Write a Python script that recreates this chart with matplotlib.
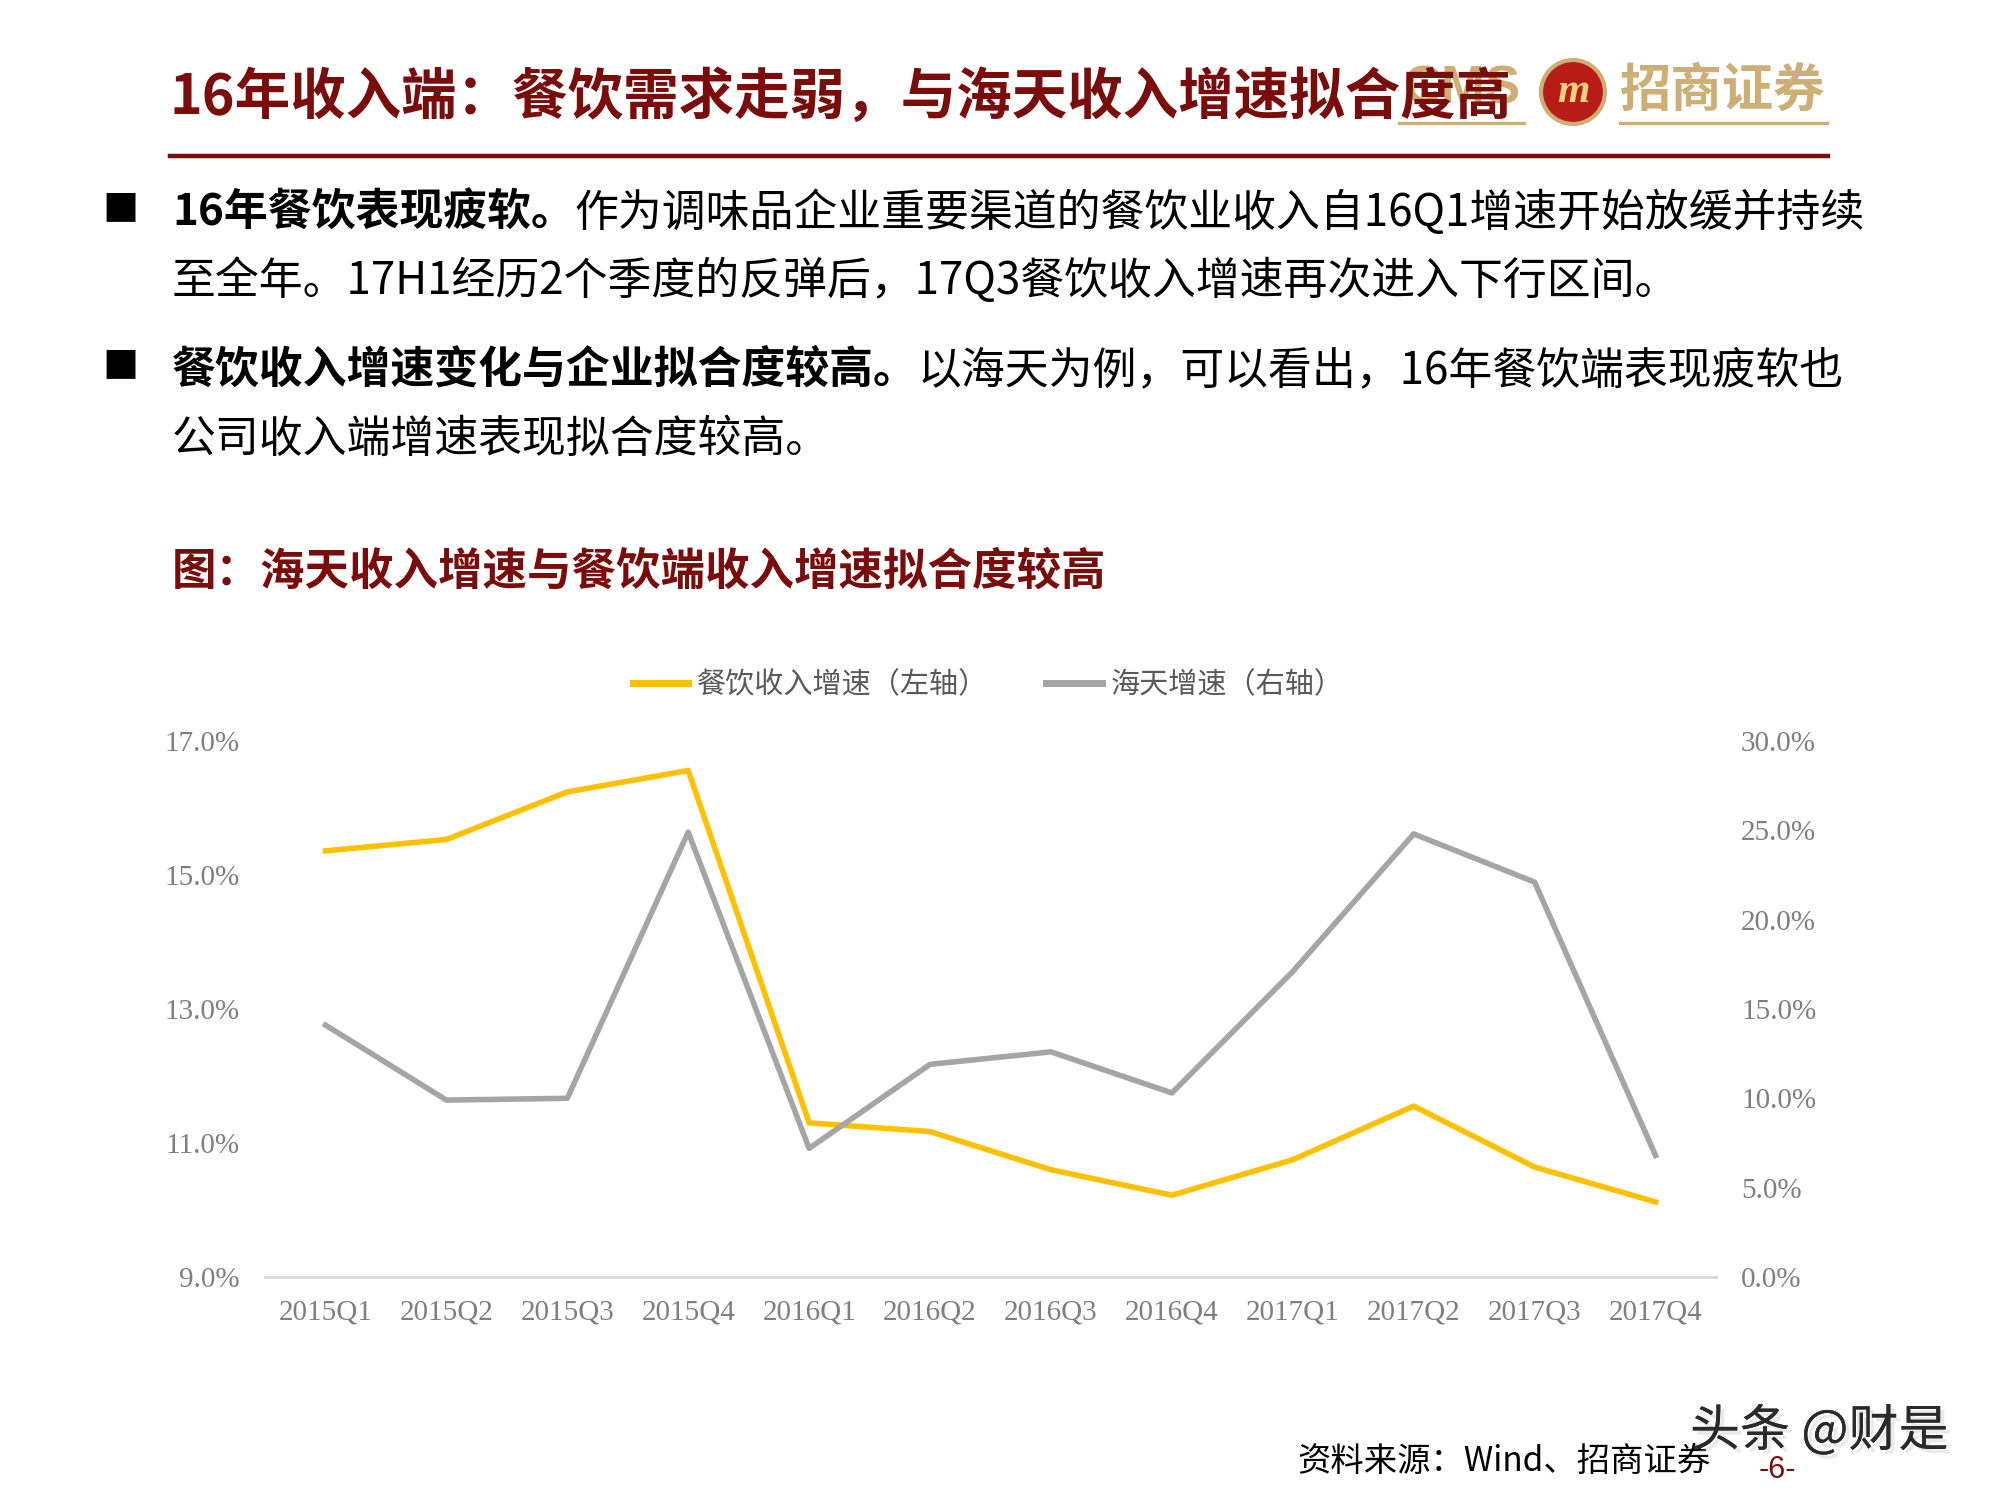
import matplotlib
matplotlib.use("Agg")
import matplotlib.pyplot as plt
from matplotlib.patches import Ellipse
from matplotlib.lines import Line2D
from matplotlib.text import Annotation
import matplotlib.patheffects as pe

plt.rcParams['font.family'] = ['Noto Sans CJK SC', 'DejaVu Sans']

# 数据
quarters = ['2015Q1', '2015Q2', '2015Q3', '2015Q4', '2016Q1', '2016Q2',
            '2016Q3', '2016Q4', '2017Q1', '2017Q2', '2017Q3', '2017Q4']
canyin = [15.36, 15.53, 16.24, 16.56, 11.30, 11.17, 10.60, 10.22, 10.75, 11.55, 10.64, 10.12]
haitian = [14.1, 9.9, 10.0, 24.9, 7.2, 11.9, 12.6, 10.3, 17.1, 24.8, 22.1, 6.8]
left_ticks = [9, 11, 13, 15, 17]
right_ticks = [0, 5, 10, 15, 20, 25, 30]

W, H = 2000, 1500
RED = '#7B0C0C'
GOLD = '#CDAE74'

def px(x, y):
    return x / W, 1 - y / H

fig = plt.figure(figsize=(10, 7.5), dpi=200)

# 标题
fig.text(*px(170, 98), '16年收入端：餐饮需求走弱，与海天收入增速拟合度高', fontsize=20,
         fontweight='bold', color=RED, va='center', ha='left', zorder=5)

# logo
fig.text(*px(1462, 90), 'CMS', fontsize=19, fontweight='bold', color=GOLD,
         family='Liberation Sans', ha='center', va='center', zorder=1)
fig.add_artist(Ellipse(px(1573, 92), 64 / W, 64 / H, transform=fig.transFigure,
                       facecolor='#B71C17', edgecolor=GOLD, lw=1.5))
fig.text(*px(1573, 92), 'm', fontsize=15, fontweight='bold', style='italic',
         color='#F2D27A', family='Liberation Serif', ha='center', va='center')
fig.text(*px(1723, 90), '招商证券', fontsize=18.5, fontweight='bold', color=GOLD,
         ha='center', va='center')
for x0, x1 in [(1399, 1524), (1620, 1827)]:
    fig.add_artist(Line2D([x0 / W, x1 / W], [1 - 123 / H, 1 - 123 / H],
                          transform=fig.transFigure, color=GOLD, lw=1.2))

# 红色分割线
fig.add_artist(Line2D([170 / W, 1828 / W], [1 - 156 / H, 1 - 156 / H],
                      transform=fig.transFigure, color=RED, lw=1.6))

# 正文
bullets = [
    (213, '16年餐饮表现疲软。', '作为调味品企业重要渠道的餐饮业收入自16Q1增速开始放缓并持续'),
    (370, '餐饮收入增速变化与企业拟合度较高。', '以海天为例，可以看出，16年餐饮端表现疲软也'),
]
for y, bold, rest in bullets:
    fig.text(*px(102, y - 3), '■', fontsize=13, color='black', va='center', ha='left')
    t = fig.text(*px(172, y), bold, fontsize=15.8, fontweight='bold', color='black',
                 va='center', ha='left')
    fig.add_artist(Annotation(rest, xy=(1, 0.5), xycoords=t, fontsize=15.8, color='black',
                              va='center', ha='left', annotation_clip=False))
fig.text(*px(172, 281), '至全年。17H1经历2个季度的反弹后，17Q3餐饮收入增速再次进入下行区间。',
         fontsize=15.8, color='black', va='center', ha='left')
fig.text(*px(172, 439), '公司收入端增速表现拟合度较高。',
         fontsize=15.8, color='black', va='center', ha='left')

# 图标题
fig.text(*px(172, 572), '图：海天收入增速与餐饮端收入增速拟合度较高', fontsize=16,
         fontweight='bold', color=RED, va='center', ha='left')

# 图表
ax = fig.add_axes([0.1325, 0.1487, 0.7255, 0.3573])
x = range(len(quarters))
l1, = ax.plot(x, canyin, color='#FFC000', lw=2.0, solid_joinstyle='round')
ax.set_ylim(9, 17)
ax.set_yticks(left_ticks)
ax.set_yticklabels([f'{v:.1f}%' for v in left_ticks])
ax.set_xlim(-0.5, len(quarters) - 0.5)
ax.set_xticks(list(x))
ax.set_xticklabels(quarters)

ax2 = ax.twinx()
l2, = ax2.plot(x, haitian, color='#A5A5A5', lw=2.0, solid_joinstyle='round')
ax2.set_ylim(0, 30)
ax2.set_yticks(right_ticks)
ax2.set_yticklabels([f'{v:.1f}%' for v in right_ticks])

for a in (ax, ax2):
    for s in ['top', 'left', 'right']:
        a.spines[s].set_visible(False)
    a.spines['bottom'].set_color('#D9D9D9')
    a.spines['bottom'].set_linewidth(1.0)
    a.tick_params(length=0, labelcolor='#7F7F7F', labelsize=10.5)
    for lab in a.get_xticklabels() + a.get_yticklabels():
        lab.set_family('Liberation Serif')
ax.tick_params(axis='y', pad=9)
ax2.tick_params(axis='y', pad=9)
ax.tick_params(axis='x', pad=8)

leg = ax.legend([l1, l2], ['餐饮收入增速（左轴）', '海天增速（右轴）'], ncol=2,
                loc='center', bbox_to_anchor=(0.494, 0.543),
                bbox_transform=fig.transFigure, frameon=False, fontsize=10.5,
                handlelength=1.9, columnspacing=2.0, handletextpad=0.3)
for t in leg.get_texts():
    t.set_color('#595959')
for h in leg.get_lines():
    h.set_linewidth(2.5)

# 来源与页脚
fig.text(*px(1297, 1462), '资料来源：Wind、招商证券', fontsize=12, color='black',
         va='center', ha='left')
fig.text(*px(1690, 1432), '头条 @财是', fontsize=18, color='#2A2A2A', va='center', ha='left',
         path_effects=[pe.withSimplePatchShadow(offset=(1.5, -1.5), shadow_rgbFace='#BBBBBB'),
                       pe.Normal()])
fig.text(*px(1777, 1470), '-6-', fontsize=11, color=RED, family='Liberation Sans',
         va='center', ha='center')

fig.savefig('out.png', dpi=200)
